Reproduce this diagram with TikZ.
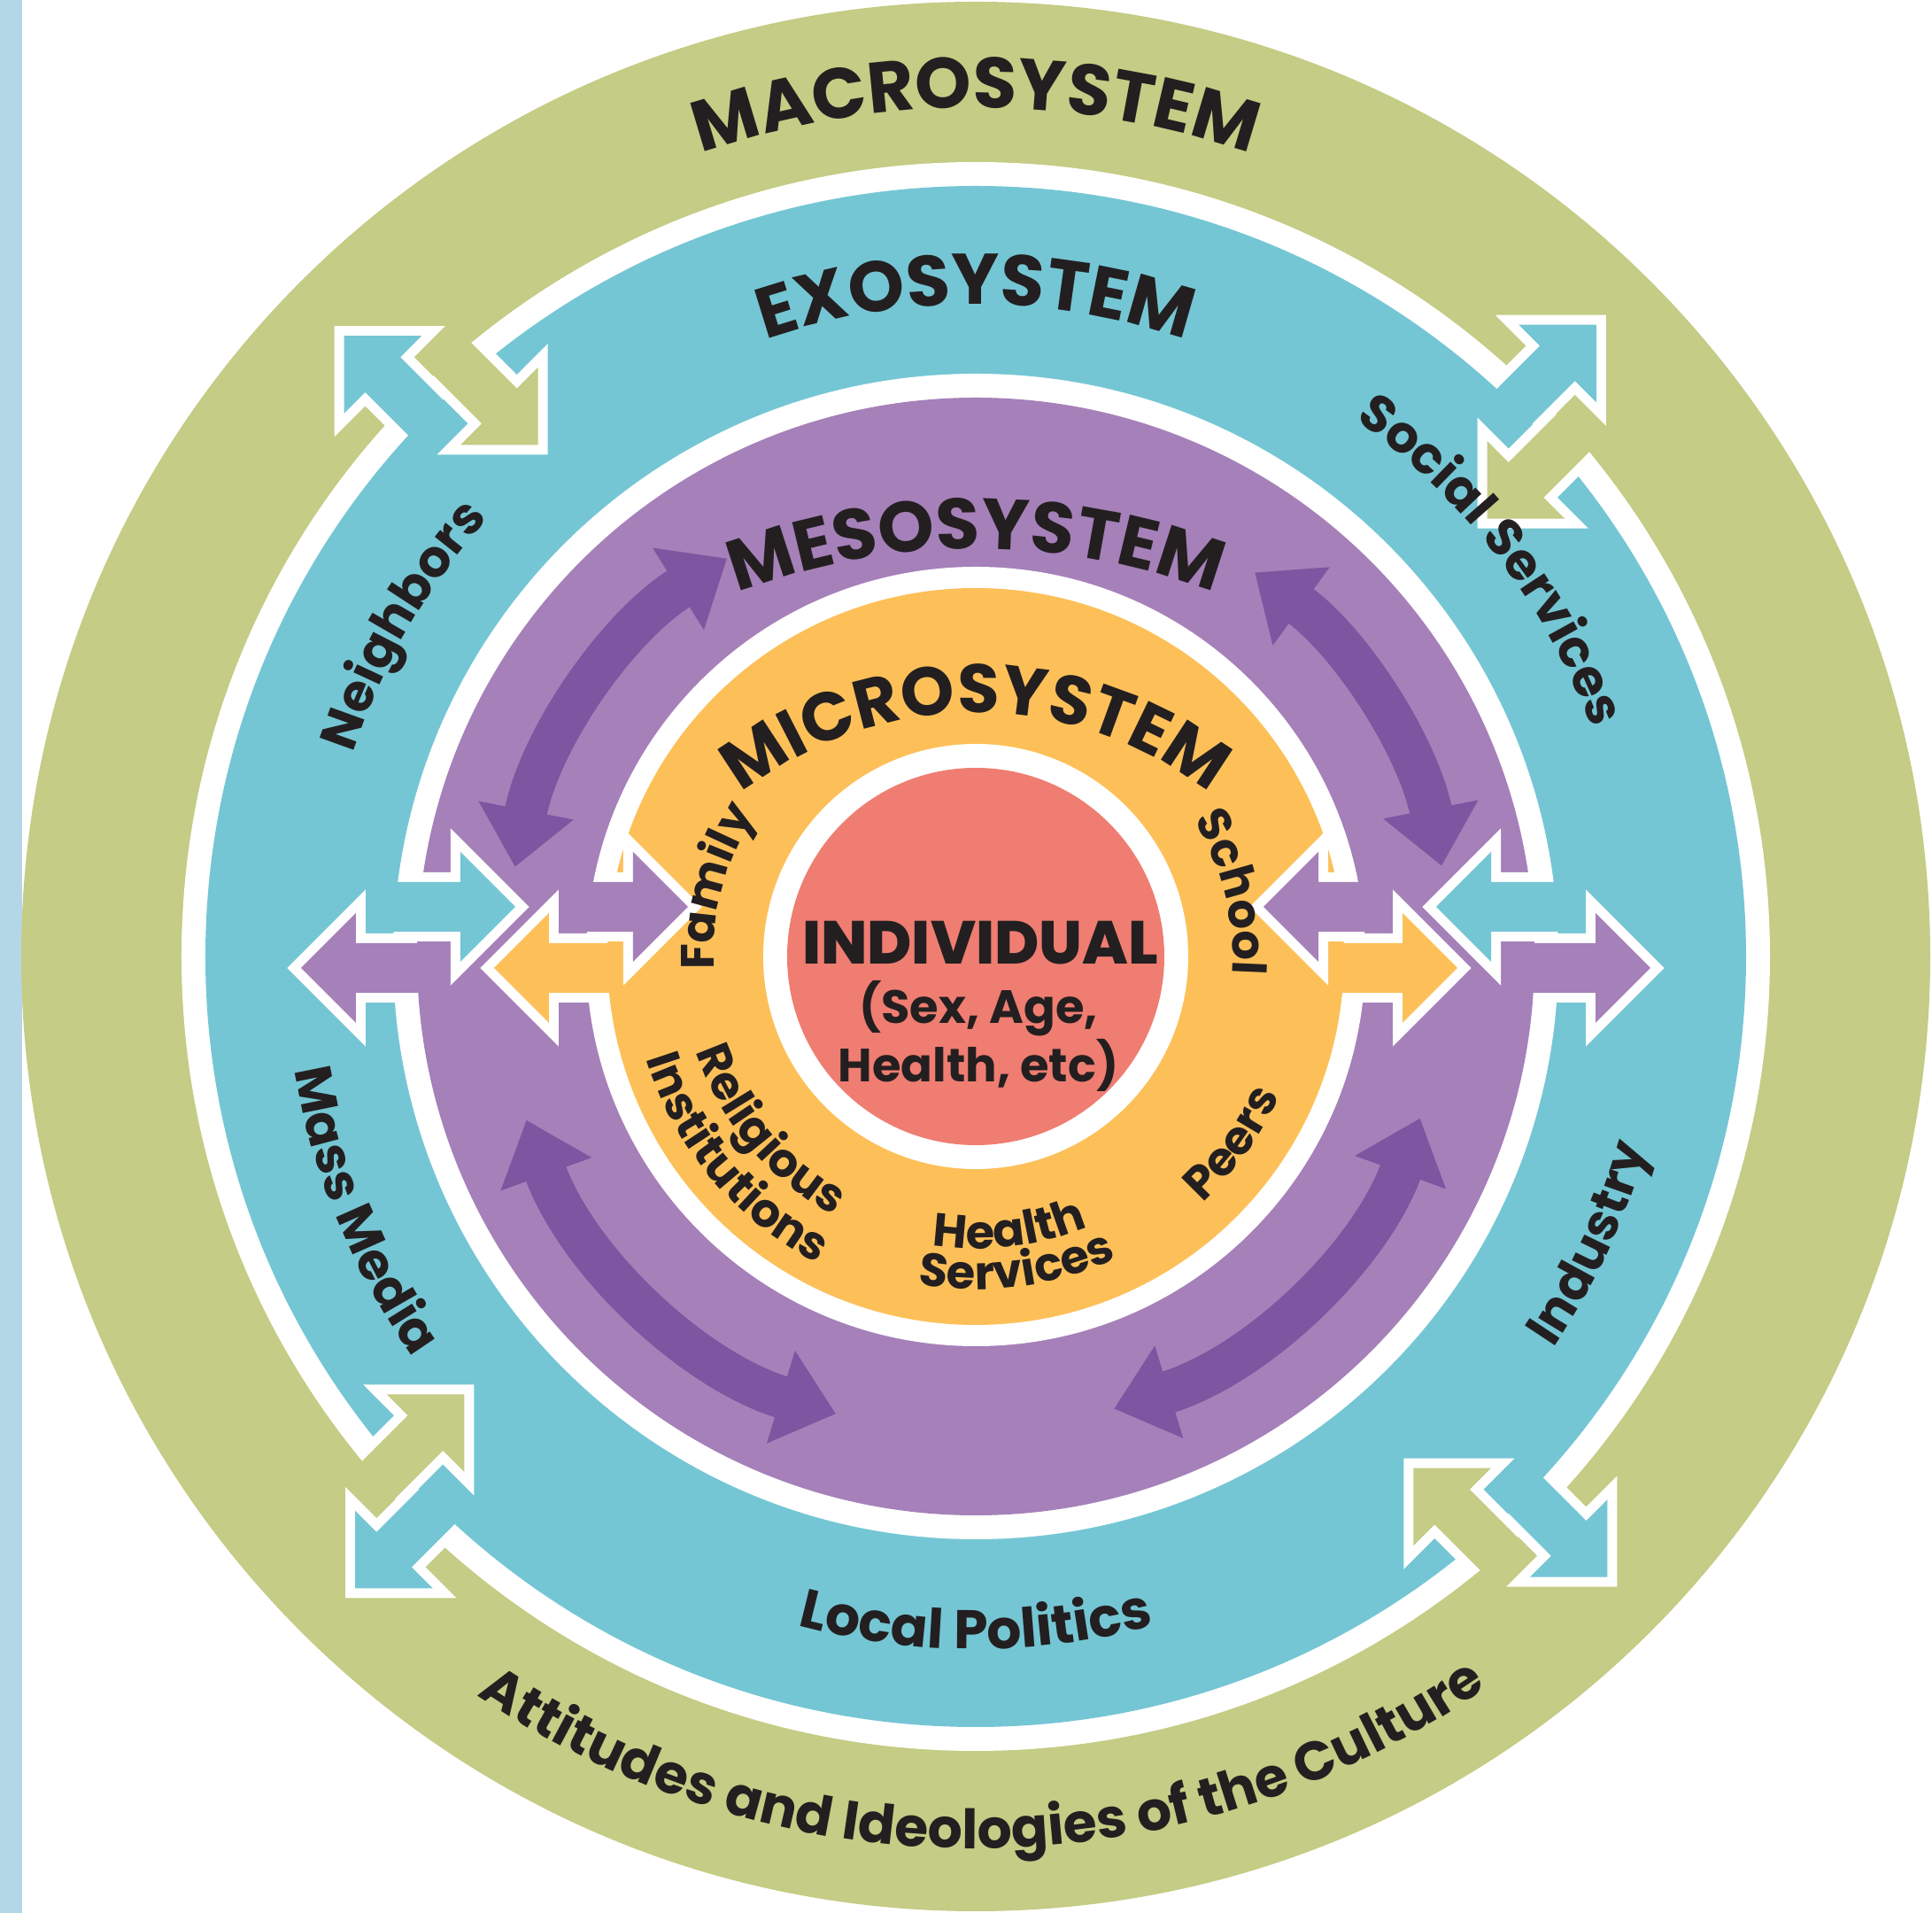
\documentclass[tikz,border=0pt]{standalone}
\usepackage{fontspec}
\setmainfont{Poppins}
\newfontfamily\heavyfont{Poppins ExtraBold}
\usetikzlibrary{arrows.meta,decorations.text}

\definecolor{macrogreen}{HTML}{C4CC85}
\definecolor{exoblue}{HTML}{75C6D4}
\definecolor{mesopurple}{HTML}{A680B9}
\definecolor{linkpurple}{HTML}{7D55A0}
\definecolor{microorange}{HTML}{FDC059}
\definecolor{indivred}{HTML}{EF7D71}
\definecolor{stripblue}{HTML}{B4D7E8}
\definecolor{ink}{HTML}{231F20}

\newcommand{\headfont}{\bfseries\fontsize{23}{23}\selectfont\color{ink}}
\newcommand{\microfont}{\bfseries\fontsize{22}{22}\selectfont\color{ink}}
\newcommand{\tagfont}{\bfseries\fontsize{16.5}{16.5}\selectfont\color{ink}}
\newcommand{\widetagfont}{\bfseries\fontsize{17.5}{17.5}\selectfont\color{ink}}
\newcommand{\smallfont}{\bfseries\fontsize{15}{15}\selectfont\color{ink}}

% link arrow pointing along +x, tip at the origin
\newcommand{\linkbody}[1]{(0,0) -- (-0.62,0.62) -- (-0.62,0.28) -- (-#1,0.28) -- (-#1,-0.28) -- (-0.62,-0.28) -- (-0.62,-0.62) -- cycle}
\newcommand{\linkrim}[1]{(-#1,0.28) -- (-0.62,0.28) -- (-0.62,0.62) -- (0,0) -- (-0.62,-0.62) -- (-0.62,-0.28) -- (-#1,-0.28)}

\begin{document}
\begin{tikzpicture}[
  rim/.style={draw=white,line width=2.2mm},
  ringlabel/.style={decorate,decoration={text along path,text align=center,text={#1}}},
  link/.style={line width=4.8mm,draw=linkpurple,{Triangle[length=6.5mm,width=10.5mm]}-{Triangle[length=6.5mm,width=10.5mm]}}
]
\useasboundingbox (-11.02,-10.8) rectangle (10.8,10.8);
\fill[stripblue] (-11.02,-10.8) rectangle (-10.77,10.8);

% systems
\fill[macrogreen] (0,0) circle (10.78);
\fill[white] (0,0) circle (8.97);
\fill[exoblue] (0,0) circle (8.70);
\fill[white] (0,0) circle (6.58);
\fill[mesopurple] (0,0) circle (6.31);
\fill[white] (0,0) circle (4.40);
\fill[microorange] (0,0) circle (4.16);
\fill[white] (0,0) circle (2.40);
\fill[indivred] (0,0) circle (2.13);

% exosystem <-> macrosystem
\begin{scope}[rotate=45]
\draw[rim,shift={(10,0.09)}] \linkrim{1.16};
\draw[rim,shift={(7.58,-0.59)},rotate=180] \linkrim{1.23};
\fill[exoblue,shift={(10,0.09)}] \linkbody{1.5};
\fill[macrogreen,shift={(7.58,-0.59)},rotate=180] \linkbody{1.6};
\end{scope}
\begin{scope}[rotate=135]
\draw[rim,shift={(10,0.09)}] \linkrim{1.16};
\draw[rim,shift={(7.58,-0.59)},rotate=180] \linkrim{1.23};
\fill[exoblue,shift={(10,0.09)}] \linkbody{1.5};
\fill[macrogreen,shift={(7.58,-0.59)},rotate=180] \linkbody{1.6};
\end{scope}
\begin{scope}[rotate=225]
\draw[rim,shift={(10,0.09)}] \linkrim{1.16};
\draw[rim,shift={(7.58,-0.59)},rotate=180] \linkrim{1.23};
\fill[exoblue,shift={(10,0.09)}] \linkbody{1.5};
\fill[macrogreen,shift={(7.58,-0.59)},rotate=180] \linkbody{1.6};
\end{scope}
\begin{scope}[rotate=315]
\draw[rim,shift={(10,0.09)}] \linkrim{1.16};
\draw[rim,shift={(7.58,-0.59)},rotate=180] \linkrim{1.23};
\fill[exoblue,shift={(10,0.09)}] \linkbody{1.5};
\fill[macrogreen,shift={(7.58,-0.59)},rotate=180] \linkbody{1.6};
\end{scope}

% mesosystem <-> exosystem, microsystem <-> mesosystem
\draw[rim,shift={(-7.62,-0.13)},rotate=180] \linkrim{1.17};
\draw[rim,shift={(-5.20,0.56)}] \linkrim{1.22};
\draw[rim,shift={(-3.25,0.56)}] \linkrim{0.99};
\draw[rim,shift={(-5.44,-0.13)},rotate=180] \linkrim{1.16};
\draw[rim,shift={(7.62,-0.13)}] \linkrim{1.17};
\draw[rim,shift={(5.20,0.56)},rotate=180] \linkrim{1.22};
\draw[rim,shift={(3.25,0.56)},rotate=180] \linkrim{0.99};
\draw[rim,shift={(5.44,-0.13)}] \linkrim{1.16};
\fill[mesopurple,shift={(-7.62,-0.13)},rotate=180] \linkbody{1.5};
\fill[exoblue,shift={(-5.20,0.56)}] \linkbody{1.6};
\fill[mesopurple,shift={(-3.25,0.56)}] \linkbody{1.38};
\fill[microorange,shift={(-5.44,-0.13)},rotate=180] \linkbody{1.39};
\fill[mesopurple,shift={(7.62,-0.13)}] \linkbody{1.5};
\fill[exoblue,shift={(5.20,0.56)},rotate=180] \linkbody{1.6};
\fill[mesopurple,shift={(3.25,0.56)},rotate=180] \linkbody{1.38};
\fill[microorange,shift={(5.44,-0.13)}] \linkbody{1.39};

% links inside the mesosystem
\draw[link] (122:5.3) arc (122:169:5.3);
\draw[link] (11:5.36) arc (11:54:5.36);
\draw[link] (200:5.4) arc (200:253:5.4);
\draw[link] (-73:5.34) arc (-73:-20:5.34);

% ring titles
\path[ringlabel={|\headfont|MACROSYSTEM}] (160:9.58) arc (160:20:9.58);
\path[ringlabel={|\headfont|EXOSYSTEM}] (160:7.36) arc (160:20:7.36);
\path[ringlabel={|\headfont|MESOSYSTEM}] (-3.8,3.582) arc (120:60:7.6);
\path[ringlabel={|\microfont|MICROSYSTEM}] (-3.707,0.61) arc (150:30:4.28);

% ring items
\path[ringlabel={|\widetagfont|Attitudes and Ideologies of the Culture}] (200:10.07) arc (200:341:10.07);
\path[ringlabel={|\tagfont|Neighbors}] (180:7.4) arc (180:120:7.4);
\path[ringlabel={|\tagfont|Social Services}] (70:7.42) arc (70:5:7.42);
\path[ringlabel={|\tagfont|Mass Media}] (170:7.8) arc (170:235:7.8);
\path[ringlabel={|\tagfont|Industry}] (-55:7.88) arc (-55:5:7.88);
\path[ringlabel={|\widetagfont|Local Politics}] (235:7.82) arc (235:305:7.82);
\path[ringlabel={|\smallfont|Family}] (200:2.96) arc (200:130:2.96);
\path[ringlabel={|\smallfont|School}] (49:2.9) arc (49:-21:2.9);
\path[ringlabel={|\smallfont|Religious}] (185:3.34) arc (185:255:3.34);
\path[ringlabel={|\smallfont|Institutions}] (185:3.9) arc (185:255:3.9);
\path[ringlabel={|\smallfont|Health}] (-118:3.3) arc (-118:-48:3.3);
\path[ringlabel={|\smallfont|Services}] (-117.5:3.76) arc (-117.5:-47.5:3.76);
\path[ringlabel={|\smallfont|Peers}] (-66:3.78) arc (-66:-6:3.78);

\node[font=\heavyfont\fontsize{19.5}{19.5}\selectfont,text=ink] (indiv) at (0.05,0.15) {INDIVIDUAL};
\node[font=\bfseries\fontsize{15}{15}\selectfont,text=ink,align=center] (traits) at (0.03,-0.9) {(Sex, Age,\\Health, etc)};
\end{tikzpicture}
\end{document}
